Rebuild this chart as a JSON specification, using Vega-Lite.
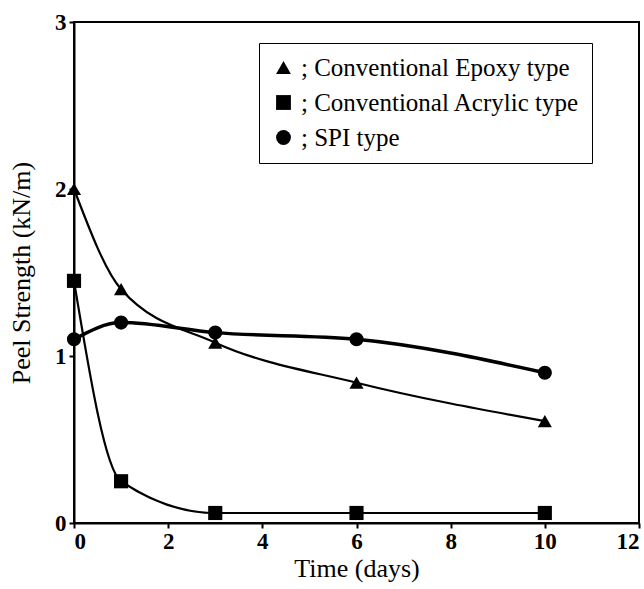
{
  "$schema": "https://vega.github.io/schema/vega-lite/v6.json",
  "width": 565,
  "height": 501,
  "autosize": {"type": "none"},
  "padding": {"left": 74, "top": 22, "right": 5, "bottom": 66},
  "background": "white",
  "config": {
    "view": {"stroke": "black", "strokeWidth": 2},
    "font": "Liberation Serif, Times New Roman, serif",
    "axis": {
      "grid": false,
      "domainColor": "black",
      "domainWidth": 2,
      "tickColor": "black",
      "tickWidth": 2,
      "tickSize": 5,
      "labelFont": "Liberation Serif, Times New Roman, serif",
      "labelFontSize": 23,
      "labelColor": "black",
      "labelFontWeight": "bold",
      "titleFont": "Liberation Serif, Times New Roman, serif",
      "titleFontSize": 26,
      "titleFontWeight": "normal",
      "titleColor": "black"
    },
    "legend": {
      "labelFont": "Liberation Serif, Times New Roman, serif",
      "labelFontSize": 25,
      "labelColor": "black",
      "strokeColor": "black",
      "labelLimit": 500
    }
  },
  "data": {
    "values": [
      {"series": "Epoxy", "t": 0, "v": 2.0},
      {"series": "Epoxy", "t": 1, "v": 1.4},
      {"series": "Epoxy", "t": 3, "v": 1.08},
      {"series": "Epoxy", "t": 6, "v": 0.84},
      {"series": "Epoxy", "t": 10, "v": 0.61},
      {"series": "Acrylic", "t": 0, "v": 1.45},
      {"series": "Acrylic", "t": 1, "v": 0.25},
      {"series": "Acrylic", "t": 3, "v": 0.06},
      {"series": "Acrylic", "t": 6, "v": 0.06},
      {"series": "Acrylic", "t": 10, "v": 0.06},
      {"series": "SPI", "t": 0, "v": 1.1},
      {"series": "SPI", "t": 1, "v": 1.2},
      {"series": "SPI", "t": 3, "v": 1.14},
      {"series": "SPI", "t": 6, "v": 1.1},
      {"series": "SPI", "t": 10, "v": 0.9}
    ]
  },
  "encoding": {
    "x": {
      "field": "t",
      "type": "quantitative",
      "scale": {"domain": [0, 12], "nice": false},
      "axis": {"values": [0, 2, 4, 6, 8, 10, 12], "title": "Time (days)", "labelPadding": 2, "titlePadding": 2}
    },
    "y": {
      "field": "v",
      "type": "quantitative",
      "scale": {"domain": [0, 3], "nice": false},
      "axis": {"values": [0, 1, 2, 3], "title": "Peel Strength (kN/m)", "labelPadding": 3, "titlePadding": 20}
    }
  },
  "layer": [
    {
      "transform": [{"filter": "datum.series != 'SPI'"}],
      "mark": {"type": "line", "interpolate": "monotone", "color": "black", "strokeWidth": 2.2},
      "encoding": {"detail": {"field": "series"}}
    },
    {
      "transform": [{"filter": "datum.series == 'SPI'"}],
      "mark": {"type": "line", "interpolate": "monotone", "color": "black", "strokeWidth": 3.5},
      "encoding": {}
    },
    {
      "mark": {"type": "point", "filled": true, "color": "black", "opacity": 1, "size": 200},
      "encoding": {
        "shape": {
          "field": "series",
          "type": "nominal",
          "scale": {"domain": ["Epoxy", "Acrylic", "SPI"], "range": ["triangle-up", "square", "circle"]},
          "legend": {
            "orient": "none",
            "legendX": 185,
            "legendY": 21,
            "title": null,
            "labelExpr": "datum.value == 'Epoxy' ? '; Conventional Epoxy type' : datum.value == 'Acrylic' ? '; Conventional Acrylic type' : '; SPI type'",
            "symbolFillColor": "black",
            "symbolStrokeColor": "black",
            "symbolSize": 220,
            "symbolOpacity": 1,
            "rowPadding": 9,
            "labelOffset": 5,
            "strokeColor": "black",
            "padding": 12
          }
        }
      }
    }
  ]
}
